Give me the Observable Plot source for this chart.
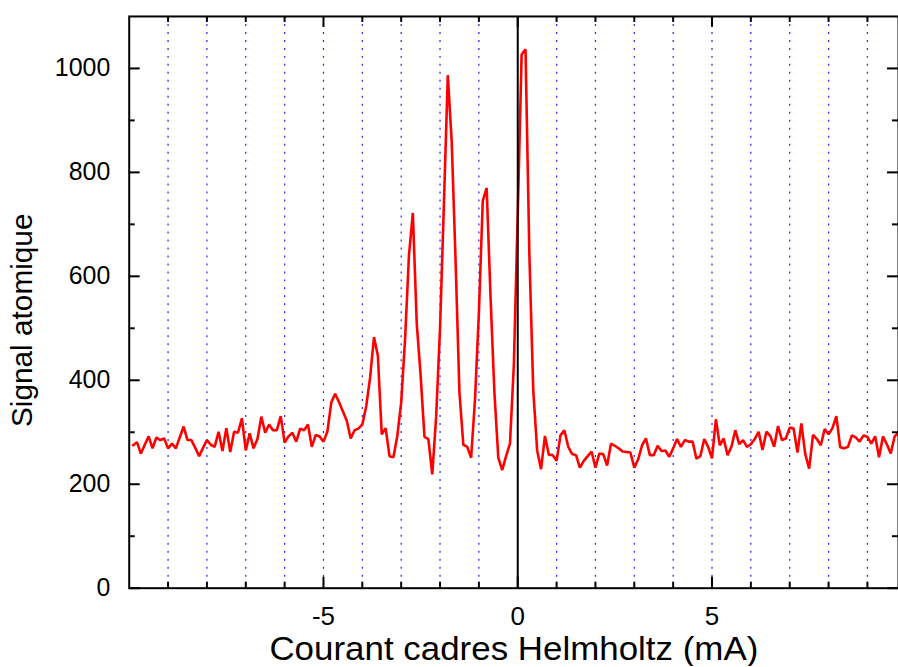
<!DOCTYPE html>
<html>
<head>
<meta charset="utf-8">
<script src="https://cdn.jsdelivr.net/npm/d3@7"></script>
<script src="https://cdn.jsdelivr.net/npm/@observablehq/plot@0.6"></script>
<style>
  html, body { margin: 0; padding: 0; background: white; overflow: hidden; }
  #chart { width: 898px; height: 667px; overflow: hidden; }
</style>
</head>
<body>
<div id="chart"></div>
<script>
// Sampling of the current (mA): from -9.9 to 9.8 every 0.1 mA
const xStart = -9.9;
const xStep = 0.1;

// Atomic signal, one value per sample
const signal = [
  275, 281, 259, 276, 292, 269, 290, 285, 288, 269,   // -9.9 .. -9.0
  278, 269, 290, 311, 285, 285, 270, 254, 270, 285,   // -8.9 .. -8.0
  276, 272, 301, 264, 308, 262, 301, 299, 327, 265,   // -7.9 .. -7.0
  298, 269, 287, 330, 299, 315, 304, 304, 331, 280,   // -6.9 .. -6.0
  292, 299, 282, 307, 304, 315, 272, 295, 292, 282,   // -5.9 .. -5.0
  301, 357, 374, 358, 340, 322, 288, 304, 307, 315,   // -4.9 .. -4.0
  350, 405, 483, 447, 296, 308, 254, 252, 293, 357,   // -3.9 .. -3.0
  479, 640, 722, 510, 410, 291, 287, 219, 330, 500,   // -2.9 .. -2.0
  740, 987, 860, 630, 376, 276, 272, 251, 363, 530,   // -1.9 .. -1.0
  745, 770, 560, 376, 251, 227, 254, 278, 430, 720,   // -0.9 .. 0.0
  1027, 1037, 640, 380, 265, 229, 293, 257, 256, 245, // 0.1 .. 1.0
  294, 304, 272, 258, 256, 232, 245, 254, 263, 232,   // 1.1 .. 2.0
  259, 258, 236, 278, 274, 269, 263, 262, 261, 232,   // 2.1 .. 3.0
  248, 275, 288, 256, 256, 274, 264, 265, 253, 269,   // 3.1 .. 4.0
  287, 272, 285, 282, 282, 249, 254, 287, 272, 250,   // 4.1 .. 5.0
  325, 275, 288, 256, 272, 304, 277, 285, 272, 277,   // 5.1 .. 6.0
  287, 301, 266, 301, 293, 272, 312, 285, 288, 309,   // 6.1 .. 7.0
  307, 261, 317, 258, 230, 295, 287, 275, 306, 296,   // 7.1 .. 8.0
  308, 331, 271, 269, 272, 294, 290, 282, 294, 291,   // 8.1 .. 9.0
  278, 292, 252, 292, 277, 259, 292, 299              // 9.1 .. 9.8
];

const xLabelTicks = [-5, 0, 5];
const xMajorTicks = [-5, 0, 5];
const xMinorTicks = [-9, -8, -7, -6, -4, -3, -2, -1, 1, 2, 3, 4, 6, 7, 8, 9];
const xGrid = [-9, -8, -7, -6, -5, -4, -3, -2, -1, 1, 2, 3, 4, 5, 6, 7, 8, 9];
const zeroLine = [0];
const yLabelTicks = [0, 200, 400, 600, 800, 1000];
const yMinorTicks = [100, 300, 500, 700, 900];
const xTitle = "Courant cadres Helmholtz (mA)";
const yTitle = "Signal atomique";

const data = signal.map((v, i) => ({x: Math.round((xStart + i * xStep) * 10) / 10, y: v}));

const W = 900, H = 667;
const mL = 129, mR = 0, mT = 16, mB = 78;
const innerW = W - mL - mR, innerH = H - mT - mB;
const majorLen = 11, minorLen = 6;

const chart = Plot.plot({
  width: W,
  height: H,
  marginLeft: mL,
  marginRight: mR,
  marginTop: mT,
  marginBottom: mB,
  x: {domain: [-10, 9.8], axis: null},
  y: {domain: [0, 1100], axis: null},
  style: {fontFamily: "'Liberation Sans', Arial, Helvetica, sans-serif", background: "white", color: "black"},
  marks: [
    Plot.ruleX(xGrid, {x: d => d, stroke: "#2020ff", strokeWidth: 1.2, strokeDasharray: "2,6"}),
    Plot.lineY(data, {x: "x", y: "y", stroke: "#ff0000", strokeWidth: 2.6, strokeLinejoin: "miter"}),
    Plot.ruleX(zeroLine, {x: d => d, stroke: "black", strokeWidth: 2}),
    Plot.frame({stroke: "black", strokeWidth: 2}),
    // inward ticks: bottom and top
    Plot.tickX(xMinorTicks, {x: d => d, stroke: "black", strokeWidth: 2, insetTop: innerH - minorLen}),
    Plot.tickX(xMinorTicks, {x: d => d, stroke: "black", strokeWidth: 2, insetBottom: innerH - minorLen}),
    Plot.tickX(xMajorTicks, {x: d => d, stroke: "black", strokeWidth: 2, insetTop: innerH - majorLen}),
    Plot.tickX(xMajorTicks, {x: d => d, stroke: "black", strokeWidth: 2, insetBottom: innerH - majorLen}),
    // inward ticks: left and right
    Plot.tickY(yMinorTicks, {y: d => d, stroke: "black", strokeWidth: 2, insetRight: innerW - minorLen}),
    Plot.tickY(yMinorTicks, {y: d => d, stroke: "black", strokeWidth: 2, insetLeft: innerW - minorLen}),
    Plot.tickY(yLabelTicks, {y: d => d, stroke: "black", strokeWidth: 2, insetRight: innerW - majorLen}),
    Plot.tickY(yLabelTicks, {y: d => d, stroke: "black", strokeWidth: 2, insetLeft: innerW - majorLen}),
    // tick labels
    Plot.text(xLabelTicks, {x: d => d, text: d => String(d), frameAnchor: "bottom", lineAnchor: "top", textAnchor: "middle", dy: 18, fontSize: 26, fill: "black"}),
    Plot.text(yLabelTicks, {y: d => d, text: d => String(d), frameAnchor: "left", lineAnchor: "middle", textAnchor: "end", dx: -19, fontSize: 25, fill: "black"}),
    // axis titles
    Plot.text([xTitle], {text: d => d, frameAnchor: "bottom", lineAnchor: "middle", textAnchor: "middle", dy: 61, fontSize: 33, fill: "black"}),
    Plot.text([yTitle], {text: d => d, frameAnchor: "left", lineAnchor: "middle", textAnchor: "middle", rotate: -90, dx: -107, dy: 18, fontSize: 30, fill: "black"})
  ]
});

// Widen the axis titles slightly to match the reference's wider typeface
chart.querySelectorAll("text").forEach(t => {
  if (t.textContent === xTitle) { t.setAttribute("textLength", 490); t.setAttribute("lengthAdjust", "spacingAndGlyphs"); }
  if (t.textContent === yTitle) { t.setAttribute("textLength", 214); t.setAttribute("lengthAdjust", "spacingAndGlyphs"); }
});

document.getElementById("chart").appendChild(chart);
</script>
</body>
</html>
